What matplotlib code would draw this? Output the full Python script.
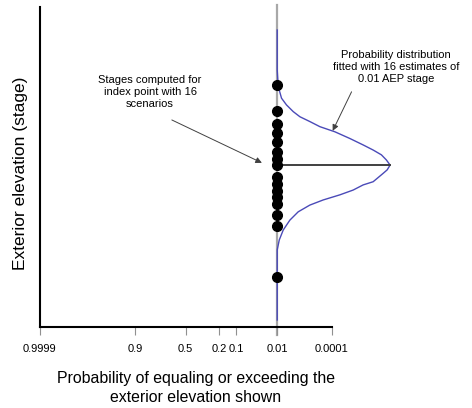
"""Stage uncertainty at an index point plotted on a normal probability scale."""

import matplotlib
matplotlib.use('Agg')
import matplotlib.pyplot as plt
from statistics import NormalDist

# exceedance probabilities shown on the x axis
prob_ticks = [0.9999, 0.9, 0.5, 0.2, 0.1, 0.01, 0.0001]
prob_labels = ['0.9999', '0.9', '0.5', '0.2', '0.1', '0.01', '0.0001']
index_prob = 0.01

# 16 stage estimates for the 0.01 AEP event (relative elevation, 0-100)
scenario_stages = [75.6, 67.5, 63.4, 60.7, 57.8, 54.7, 52.5, 50.6,
                   46.9, 44.7, 42.5, 40.6, 38.4, 35.0, 31.6, 15.6]

# fitted distribution: stage and relative density
curve_stage = [92.8, 80.3, 75.1, 71.5, 69.4, 67.3, 65.7, 64.2, 62.6, 61.0,
               58.9, 56.9, 55.3, 53.8, 52.2, 50.6, 49.1, 48.0, 45.4, 44.4,
               42.8, 41.3, 39.7, 38.1, 36.0, 33.4, 30.3, 27.2, 24.1, 2.2]
curve_density = [0.0, 0.0, 0.009, 0.038, 0.082, 0.142, 0.201, 0.289, 0.378, 0.511,
                 0.644, 0.761, 0.850, 0.923, 0.967, 1.0, 0.974, 0.938, 0.850, 0.761,
                 0.673, 0.555, 0.407, 0.289, 0.186, 0.112, 0.053, 0.018, 0.0, 0.0]
fitted_stage = 50.6


def zscore(p):
    # position on a normal probability axis
    return NormalDist().inv_cdf(1 - p)


plt.rcParams['font.family'] = 'Liberation Sans'

fig = plt.figure(figsize=(4.72, 4.08), dpi=100)
ax = fig.add_axes([39.5 / 472, 81 / 408, 432.5 / 472, 320 / 408])

z_ticks = [zscore(p) for p in prob_ticks]
z_left, z_right = z_ticks[0], z_ticks[-1]
px_per_unit = 292.5 / (z_right - z_left)
ax.set_xlim(z_left, z_left + 432.5 / px_per_unit)
ax.set_ylim(0, 100)

x0 = zscore(index_prob)
peak_width = 2.87

# vertical line through the index probability
ax.plot([x0, x0], [-2.5, 100.5], color='#a8a8a8', lw=1.6, clip_on=False, zorder=1)

# fitted distribution, drawn sideways from the vertical line
ax.plot([x0 + d * peak_width for d in curve_density], curve_stage,
        color='#4a4ab8', lw=1.0, zorder=2)
ax.plot([x0, x0 + peak_width], [fitted_stage, fitted_stage],
        color='#404040', lw=1.4, zorder=2)

# scenario stages
ax.plot([x0] * len(scenario_stages), scenario_stages, 'o', color='black',
        markersize=7, zorder=3)

arrow_style = dict(arrowstyle='-|>', color='#404040', lw=0.7,
                   mutation_scale=9, shrinkA=0, shrinkB=0)
fig.text(150 / 472, 1 - 92 / 408, 'Stages computed for\nindex point with 16\nscenarios',
         ha='center', va='center', fontsize=8, linespacing=1.25)
ax.annotate('', xy=(x0 - 0.39, 51.3), xytext=(x0 - 2.68, 64.7),
            arrowprops=arrow_style)
fig.text(396 / 472, 1 - 67 / 408,
         'Probability distribution\nfitted with 16 estimates of\n0.01 AEP stage',
         ha='center', va='center', fontsize=8, linespacing=1.25)
ax.annotate('', xy=(x0 + 1.41, 61.3), xytext=(x0 + 1.89, 73.5),
            arrowprops=arrow_style)

# axes styling
ax.set_xticks(z_ticks)
ax.set_xticklabels(prob_labels, fontsize=8)
ax.set_yticks([])
ax.tick_params(axis='x', length=6, width=0.8, color='#909090', pad=6)
ax.spines['top'].set_visible(False)
ax.spines['right'].set_visible(False)
ax.spines['left'].set_linewidth(1.5)
ax.spines['bottom'].set_linewidth(1.5)
ax.spines['bottom'].set_bounds(z_left, z_right)

ax.set_ylabel('Exterior elevation (stage)', fontsize=12.5)
ax.yaxis.set_label_coords(-0.027, 0.48)
fig.text(196 / 472, 1 - 388 / 408,
         'Probability of equaling or exceeding the\nexterior elevation shown',
         ha='center', va='center', fontsize=11.4, linespacing=1.25)

fig.savefig('out.png', dpi=100, facecolor='white')
